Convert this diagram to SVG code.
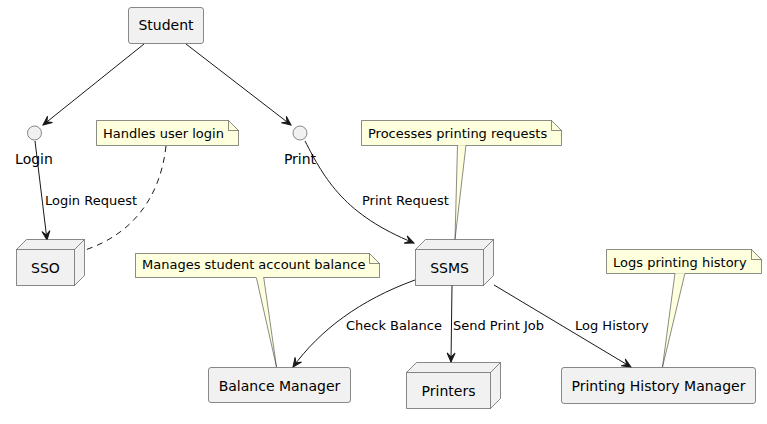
<svg xmlns="http://www.w3.org/2000/svg" width="767" height="424" viewBox="0 0 767 424">
<style>
.n{fill:#F1F1F1;stroke:#181818;stroke-width:0.5}
.note{fill:#FEFFDD;stroke:#181818;stroke-width:0.5}
.nf{fill:#FEFFDD;stroke:none}
.nl{fill:none;stroke:#181818;stroke-width:0.5}
.t{font-family:"DejaVu Sans",sans-serif;font-size:14px;fill:#000}
.s{font-family:"DejaVu Sans",sans-serif;font-size:13px;fill:#000}
.e{fill:none;stroke:#181818;stroke-width:1}
</style>
<defs>
<marker id="a" viewBox="-10 -5 11 10" markerWidth="11" markerHeight="10" refX="0" refY="0" orient="auto" markerUnits="userSpaceOnUse">
<path d="M0,0 L-9,-4 L-5,0 L-9,4 Z" fill="#181818" stroke="#181818" stroke-width="1"/>
</marker>
</defs>
<rect width="767" height="424" fill="#FFFFFF"/>
<g id="connectors">
<path class="e" d="M144,44 L43,125" marker-end="url(#a)"/>
<path class="e" d="M186,44 L291,125" marker-end="url(#a)"/>
<path class="e" d="M35,141 L47,240" marker-end="url(#a)"/>
<text class="s" x="45" y="205">Login Request</text>
<path class="e" d="M305,141 C325,180 345,215 414,243" marker-end="url(#a)"/>
<text class="s" x="362" y="205">Print Request</text>
<path class="e" d="M166,146 C160,200 130,235 85,250" stroke-dasharray="6,5"/>
<path class="e" d="M415,280 C360,300 320,330 293,367" marker-end="url(#a)"/>
<text class="s" x="346" y="330">Check Balance</text>
<path class="e" d="M452,285 L451,362" marker-end="url(#a)"/>
<text class="s" x="453" y="330">Send Print Job</text>
<path class="e" d="M494,285 L631,367" marker-end="url(#a)"/>
<text class="s" x="575" y="330">Log History</text>
</g>
<g id="Student">
<rect class="n" x="128.5" y="7.5" width="75" height="36" rx="2.5"/>
<text class="t" x="166" y="30" text-anchor="middle">Student</text>
</g>
<g id="Login">
<circle class="n" cx="34.5" cy="133" r="7"/>
<text class="t" x="34" y="164" text-anchor="middle">Login</text>
</g>
<g id="Print">
<circle class="n" cx="300" cy="133" r="7"/>
<text class="t" x="300" y="164" text-anchor="middle">Print</text>
</g>
<g id="note_login">
<path class="note" d="M96.5,120.5 L228.5,120.5 L238.5,130.5 L238.5,145.5 L96.5,145.5 Z"/>
<path class="nl" d="M228.5,120.5 L228.5,130.5 L238.5,130.5"/>
<text class="s" x="103" y="137.5">Handles user login</text>
</g>
<g id="note_ssms">
<path class="note" d="M457.5,145 L455,239.5 L466,145 Z"/>
<path class="nf" d="M361.5,120.5 L551.5,120.5 L561.5,130.5 L561.5,145.5 L361.5,145.5 Z"/>
<path class="nl" d="M466,145.5 L561.5,145.5 L561.5,130.5 L551.5,120.5 L361.5,120.5 L361.5,145.5 L457.5,145.5"/>
<path class="nl" d="M551.5,120.5 L551.5,130.5 L561.5,130.5"/>
<text class="s" x="368" y="137.5">Processes printing requests</text>
</g>
<g id="SSO">
<path class="n" d="M16.5,249.5 L26.5,239.5 L84.5,239.5 L84.5,275.5 L74.5,285.5 L16.5,285.5 Z"/>
<path class="nl" d="M16.5,249.5 L74.5,249.5 L84.5,239.5 M74.5,249.5 L74.5,285.5"/>
<text class="t" x="45.5" y="272.5" text-anchor="middle">SSO</text>
</g>
<g id="SSMS">
<path class="n" d="M415.5,249.5 L425.5,239.5 L493.5,239.5 L493.5,275.5 L483.5,285.5 L415.5,285.5 Z"/>
<path class="nl" d="M415.5,249.5 L483.5,249.5 L493.5,239.5 M483.5,249.5 L483.5,285.5"/>
<text class="t" x="449.5" y="273" text-anchor="middle">SSMS</text>
</g>
<g id="note_balance">
<path class="note" d="M256,276 L276.5,367 L263.5,276 Z"/>
<path class="nf" d="M135.5,253.5 L369.5,253.5 L379.5,263.5 L379.5,277.5 L135.5,277.5 Z"/>
<path class="nl" d="M263.5,277.5 L379.5,277.5 L379.5,263.5 L369.5,253.5 L135.5,253.5 L135.5,277.5 L256,277.5"/>
<path class="nl" d="M369.5,253.5 L369.5,263.5 L379.5,263.5"/>
<text class="s" x="142" y="268.5">Manages student account balance</text>
</g>
<g id="BalanceManager">
<rect class="n" x="208.5" y="367.5" width="142" height="35" rx="2.5"/>
<text class="t" x="279.5" y="391" text-anchor="middle">Balance Manager</text>
</g>
<g id="Printers">
<path class="n" d="M406.5,372.5 L416.5,362.5 L500.5,362.5 L500.5,398.5 L490.5,408.5 L406.5,408.5 Z"/>
<path class="nl" d="M406.5,372.5 L490.5,372.5 L500.5,362.5 M490.5,372.5 L490.5,408.5"/>
<text class="t" x="448.5" y="396" text-anchor="middle">Printers</text>
</g>
<g id="note_history">
<path class="note" d="M675,273 L662.5,367 L685,273 Z"/>
<path class="nf" d="M606.5,249.5 L751.5,249.5 L761.5,259.5 L761.5,273.5 L606.5,273.5 Z"/>
<path class="nl" d="M685,273.5 L761.5,273.5 L761.5,259.5 L751.5,249.5 L606.5,249.5 L606.5,273.5 L675,273.5"/>
<path class="nl" d="M751.5,249.5 L751.5,259.5 L761.5,259.5"/>
<text class="s" x="613" y="266.5">Logs printing history</text>
</g>
<g id="PrintingHistoryManager">
<rect class="n" x="561.5" y="367.5" width="194" height="36" rx="2.5"/>
<text class="t" x="658.5" y="391" text-anchor="middle">Printing History Manager</text>
</g>
</svg>
